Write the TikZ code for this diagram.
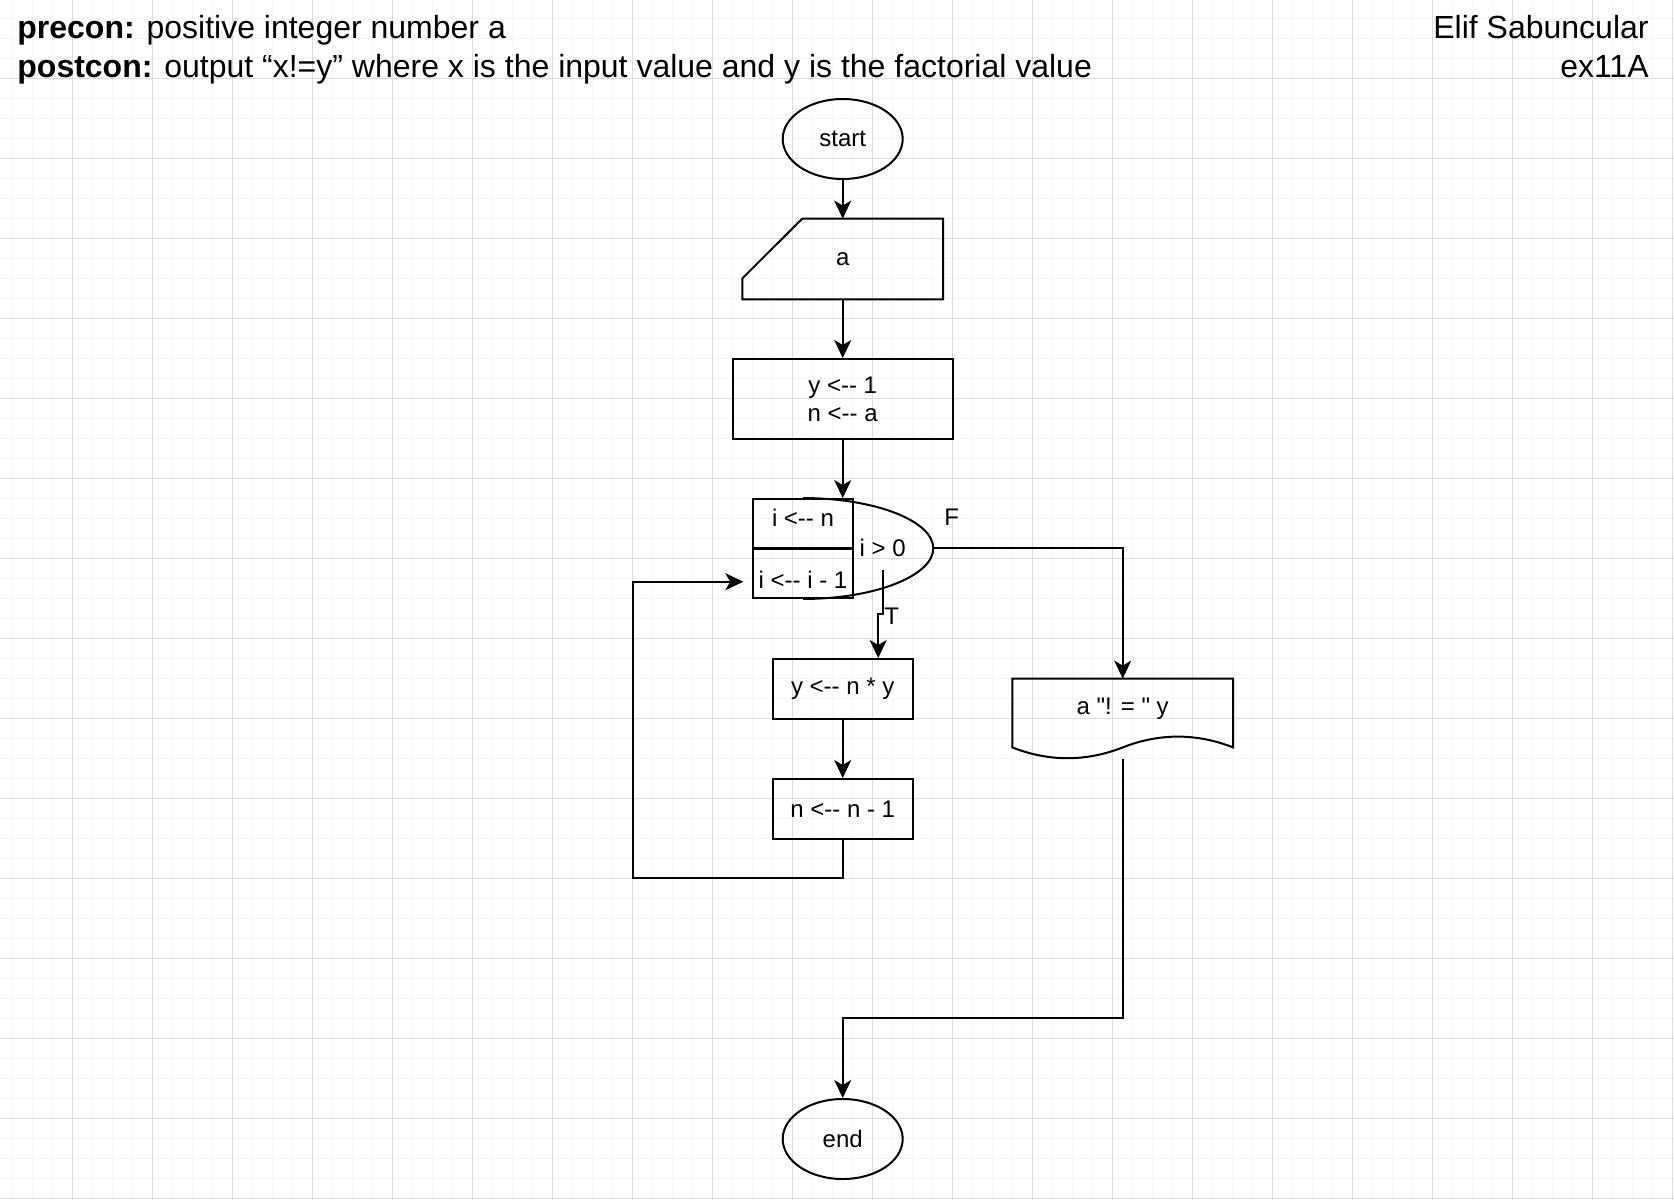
\documentclass[tikz,border=0pt]{standalone}
\usepackage{fontspec}
\newfontfamily\flowfont{Liberation Sans}
\usepackage{tikz}
\usetikzlibrary{calc, arrows.meta, shapes}

\begin{document}
\begin{tikzpicture}[x=0.5pt, y=-0.5pt, font=\flowfont\fontsize{12}{14}\selectfont]
		\tikzstyle{terminal} = [draw=black, ellipse, line width=1pt, minimum width=60pt, minimum height=40pt, inner sep=0pt]
		\tikzstyle{process} = [draw=black, rectangle, line width=1pt, align=center, inner sep=0pt]
		\tikzstyle{frame} = [rectangle, inner sep=0pt]
		\tikzstyle{outline} = [draw=black, line width=1pt]
		\tikzstyle{lbl} = [inner sep=0pt]
		\tikzstyle{arrow} = [line width=1pt, -{Stealth[length=9pt, width=8.5pt, inset=2.5pt]}]
		\tikzstyle{gridminor} = [draw=black!4, line width=0.5pt]
		\tikzstyle{gridmajor} = [draw=black!14, line width=0.5pt]
		
		\fill[white] (0,0) rectangle (1674,1200);
		\useasboundingbox (0,0) rectangle (1674,1200);
		
		% paper grid
		\foreach \gx in {12,32,...,1672} \draw[gridminor] (\gx,0) -- (\gx,1200);
		\foreach \gy in {18,38,...,1198} \draw[gridminor] (0,\gy) -- (1674,\gy);
		\foreach \gx in {72,152,...,1672} \draw[gridmajor] (\gx,0) -- (\gx,1200);
		\foreach \gy in {78,158,...,1198} \draw[gridmajor] (0,\gy) -- (1674,\gy);
		
		\node[frame, anchor=north west, align=left, font=\flowfont\fontsize{16}{19.5}\selectfont] at (17, 15) (spec) {\textbf{precon:} positive integer number a\\\textbf{postcon:} output “x!=y” where x is the input value and y is the factorial value};
		\node[frame, anchor=north east, align=right, font=\flowfont\fontsize{16}{19.5}\selectfont] at (1649, 15) (who) {Elif Sabuncular\\ex11A};
		
		\node[terminal]	at (842.7, 139)		(start)	{start};
		\node[frame, minimum width=100pt, minimum height=40pt]	at (842.7, 259)	(ina)	{a};
		\node[process, minimum width=110pt, minimum height=40pt]	at (842.7, 399)	(init)	{y <-- 1\\n <-- a};
		
		\node[process, minimum width=50.3pt, minimum height=24.65pt, label={[yshift=3pt]center:{i <-- n}}]	at (803, 523.7)	(initi)	{};
		\node[process, minimum width=50.3pt, minimum height=24.65pt, label={[yshift=-3pt]center:{i <-- i - 1}}]	at (803, 573.3)	(deci)	{};
		\node[frame, minimum height=21pt]	at (882.7, 548.3)	(cond)	{i > 0};
		\coordinate (tip) at (933.3, 548.3);
		
		\node[process, minimum width=70pt, minimum height=30pt]	at (842.7, 689)	(mul)	{y <-- n * y};
		\node[process, minimum width=70pt, minimum height=30pt]	at (842.7, 809)	(nsub)	{n <-- n - 1};
		\node[frame, minimum width=110pt, minimum height=40pt, label={[yshift=5pt]center:{a "! = " y}}]	at (1122.7, 719)	(outp)	{};
		\node[terminal]	at (842.7, 1139)	(finish)	{end};
		
		\node[lbl]	at (951.7, 517.3)	(flbl)	{F};
		\node[lbl]	at (891.7, 616.7)	(tlbl)	{T};
		
		\coordinate (loopcorner) at (633.3, 878.3);
		\coordinate (loopin) at (743.3, 581.7);
		
		% shapes drawn round the nodes
		\draw[outline] (ina.north east) -- (ina.south east) -- (ina.south west) -- ++(0,-21) -- ($(ina.north west)+(60,0)$) -- cycle;
		\draw[outline] (initi.north) .. controls +(72,0) and +(0,-27.4) .. (tip) .. controls +(0,27.4) and +(72,0) .. (deci.south);
		\draw[outline] (outp.north west) -- (outp.north east) -- ($(outp.south east)+(0,-12)$)
			.. controls +(-36.7,-14.4) and +(36.7,-14.4) .. ($(outp.south)+(0,-12)$)
			.. controls +(-36.7,14.4) and +(36.7,14.4) .. ($(outp.south west)+(0,-12)$) -- cycle;
		
		\draw [arrow] (start.south) -- (ina.north);
		\draw [arrow] (ina.south) -- (init.north);
		\draw [arrow] (init.south) -- (init.south |- initi.north);
		\draw [arrow] (tip) -| (outp.north);
		\draw [arrow] (cond.south) -- ++(0,44) -| ($(mul.north)+(35.5,0)$);
		\draw [arrow] (mul.south) -- (nsub.north);
		\draw [arrow] (nsub.south) |- (loopcorner) |- (loopin);
		\draw [arrow] (outp.south) -- ++(0,259) -| (finish.north);
		
	\end{tikzpicture}
\end{document}
